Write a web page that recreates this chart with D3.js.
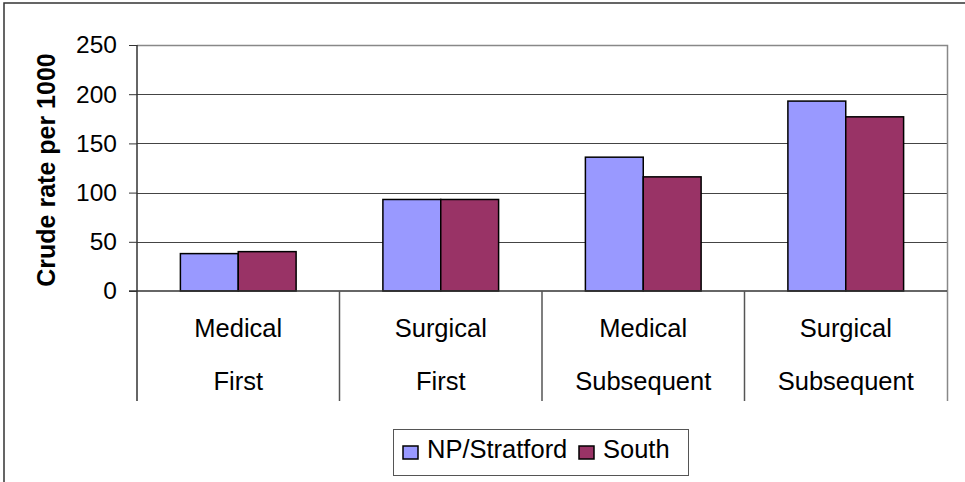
<!DOCTYPE html>
<html>
<head>
<meta charset="utf-8">
<script src="https://cdn.jsdelivr.net/npm/d3@7"></script>
<style>
	body { margin: 0; background: #fff; }
	svg text { font-family: "Liberation Sans", Arial, sans-serif; fill: #000; }
</style>
</head>
<body>
<div id="chart"></div>
<script>
// data
const categories = ["Medical|First", "Surgical|First", "Medical|Subsequent", "Surgical|Subsequent"];
const series = ["NP/Stratford", "South"];
const npStratford = [38, 93, 136, 193];
const south = [40, 93, 116, 177];
const yTicks = [0, 50, 100, 150, 200, 250];
const colors = ["#9999FF", "#993366"];

const values = [npStratford, south];
const rows = categories.map((c, i) => ({
	category: c,
	vals: series.map((s, j) => ({ series: s, value: values[j][i], color: colors[j] }))
}));

const W = 965, H = 482;
const plot = { left: 137, right: 947, top: 45, bottom: 291, labelBottom: 401 };
const fontSize = "25.5px";

const svg = d3
	.select("#chart")
	.append("svg")
	.attr("width", W)
	.attr("height", H);

// outer frame (cropped on right/bottom)
svg
	.append("path")
	.attr("d", `M4,${H + 5}V3H${W + 5}`)
	.attr("fill", "none")
	.attr("stroke", "#333")
	.attr("stroke-width", 1.5);

// scales
const x0 = d3
	.scaleBand()
	.domain(categories)
	.range([plot.left, plot.right])
	.padding(0);

const x1 = d3
	.scaleBand()
	.domain(series)
	.range([0, x0.bandwidth()])
	.paddingInner(0)
	.paddingOuter(0.75);

const y = d3
	.scaleLinear()
	.domain([0, 250])
	.range([plot.bottom, plot.top]);

// gridlines
svg
	.append("g")
	.selectAll("line")
	.data(yTicks.filter(d => d > 0 && d < 250))
	.enter()
	.append("line")
	.attr("x1", plot.left)
	.attr("x2", plot.right)
	.attr("y1", d => Math.round(y(d)) + 0.5)
	.attr("y2", d => Math.round(y(d)) + 0.5)
	.attr("stroke", "#444")
	.attr("stroke-width", 1);

// plot border (top & right)
svg
	.append("path")
	.attr("d", `M${plot.left},${plot.top + 0.5}H${plot.right + 0.5}V${plot.labelBottom}`)
	.attr("fill", "none")
	.attr("stroke", "#888")
	.attr("stroke-width", 1.5);

// bars
svg
	.append("g")
	.selectAll("g")
	.data(rows)
	.enter()
	.append("g")
	.attr("transform", d => `translate(${x0(d.category)},0)`)
	.selectAll("rect")
	.data(d => d.vals)
	.enter()
	.append("rect")
	.attr("x", d => x1(d.series))
	.attr("y", d => y(d.value))
	.attr("width", x1.bandwidth())
	.attr("height", d => y(0) - y(d.value))
	.attr("fill", d => d.color)
	.attr("stroke", "#000")
	.attr("stroke-width", 1.5);

// y axis
const yAxis = svg
	.append("g")
	.attr("transform", `translate(${plot.left},0)`)
	.call(d3.axisLeft(y).tickValues(yTicks).tickSize(8).tickPadding(12));
yAxis.select(".domain").remove();
yAxis.selectAll("line").attr("stroke", "#333");
yAxis
	.selectAll("text")
	.style("font-family", "'Liberation Sans', Arial, sans-serif")
	.style("font-size", "24.5px")
	.attr("fill", "#000");

// y axis line (extends down through category table)
svg
	.append("line")
	.attr("x1", plot.left)
	.attr("x2", plot.left)
	.attr("y1", plot.top)
	.attr("y2", plot.labelBottom)
	.attr("stroke", "#333")
	.attr("stroke-width", 1.5);

// x axis line
svg
	.append("line")
	.attr("x1", plot.left - 8)
	.attr("x2", plot.right)
	.attr("y1", plot.bottom)
	.attr("y2", plot.bottom)
	.attr("stroke", "#333")
	.attr("stroke-width", 1.5);

// category dividers
svg
	.append("g")
	.selectAll("line")
	.data(categories.slice(1))
	.enter()
	.append("line")
	.attr("x1", d => x0(d))
	.attr("x2", d => x0(d))
	.attr("y1", plot.bottom)
	.attr("y2", plot.labelBottom)
	.attr("stroke", "#555")
	.attr("stroke-width", 1.5);

// category labels (two rows)
const catLabels = svg
	.append("g")
	.selectAll("g")
	.data(categories)
	.enter()
	.append("g")
	.attr("transform", d => `translate(${x0(d) + x0.bandwidth() / 2},0)`);

catLabels
	.append("text")
	.attr("y", 337)
	.attr("text-anchor", "middle")
	.style("font-size", fontSize)
	.text(d => d.split("|")[0]);

catLabels
	.append("text")
	.attr("y", 390)
	.attr("text-anchor", "middle")
	.style("font-size", fontSize)
	.text(d => d.split("|")[1]);

// y axis title
svg
	.append("text")
	.attr("transform", "translate(55,170) rotate(-90)")
	.attr("text-anchor", "middle")
	.style("font-size", "25px")
	.style("font-weight", 700)
	.text("Crude rate per 1000");

// legend
const legend = svg.append("g");
legend
	.append("rect")
	.attr("x", 393.5)
	.attr("y", 429.5)
	.attr("width", 295)
	.attr("height", 46)
	.attr("fill", "#fff")
	.attr("stroke", "#555")
	.attr("stroke-width", 1);

const legendX = [403, 579];
const legendItems = legend
	.selectAll("g")
	.data(series)
	.enter()
	.append("g")
	.attr("transform", (d, i) => `translate(${legendX[i]},0)`);

legendItems
	.append("rect")
	.attr("x", 0)
	.attr("y", 446)
	.attr("width", 15)
	.attr("height", 13)
	.attr("fill", (d, i) => colors[i])
	.attr("stroke", "#000")
	.attr("stroke-width", 1.5);

legendItems
	.append("text")
	.attr("x", 24)
	.attr("y", 458)
	.style("font-size", fontSize)
	.text(d => d);
</script>
</body>
</html>
